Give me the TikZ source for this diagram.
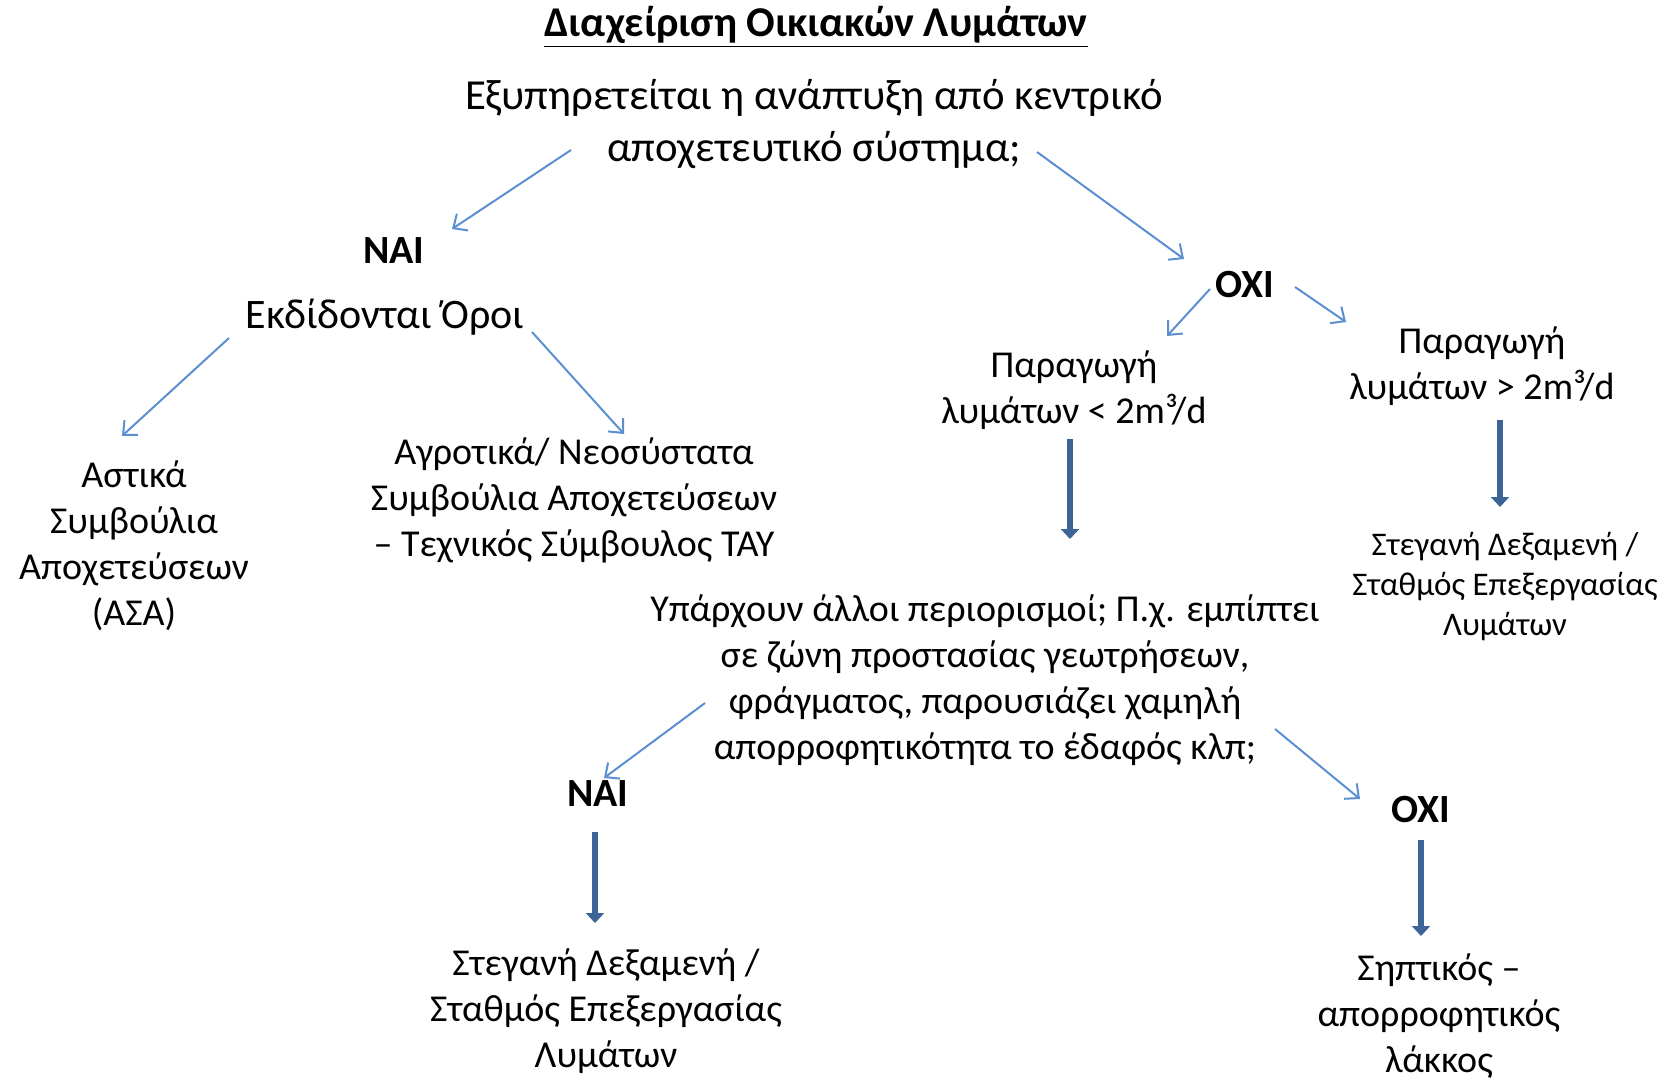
\documentclass[tikz,border=0pt]{standalone}
\usepackage{fontspec}
\setmainfont{Carlito}
\usetikzlibrary{arrows.meta,calc}
\definecolor{lBlue}{RGB}{91,143,209}
\definecolor{dBlue}{RGB}{60,100,150}
\tikzset{
    lnk/.style={draw=lBlue, line width=1pt, -{Straight Barb[length=5.5pt,width=10pt]}},
    thk/.style={draw=dBlue, line width=3pt, -{Triangle[length=5pt,width=9pt]}},
    txt/.style={align=center, inner sep=0pt, font=\fontsize{19}{23}\selectfont},
    sml/.style={align=center, inner sep=0pt, font=\fontsize{16.5}{20}\selectfont},
    ans/.style={inner sep=0pt, font=\fontsize{20}{24}\selectfont\bfseries}
}

\begin{document}
\begin{tikzpicture}[x=0.5pt,y=-0.5pt]
\useasboundingbox (0,0) rectangle (1668,1080);
\node[ans,font=\fontsize{21.2}{25}\selectfont\bfseries] (title) at (816,27) {\underline{Διαχείριση Οικιακών Λυμάτων}};
\node[txt,font=\fontsize{21.4}{26}\selectfont] (q) at (814,124) {Εξυπηρετείται η ανάπτυξη από κεντρικό\\αποχετευτικό σύστημα;};
\node[ans] (nai1) at (394,251) {ΝΑΙ};
\node[txt,font=\fontsize{21}{25}\selectfont] (ekd) at (385,317) {Εκδίδονται Όροι};
\node[txt] (astika) at (134,546) {Αστικά\\Συμβούλια\\Αποχετεύσεων\\(ΑΣΑ)};
\node[txt] (agro) at (574,500) {Αγροτικά/ Νεοσύστατα\\Συμβούλια Αποχετεύσεων\\– Τεχνικός Σύμβουλος ΤΑΥ};
\node[ans] (oxi1) at (1245,285) {ΟΧΙ};
\node[txt] (par1) at (1074,390) {Παραγωγή\\λυμάτων < 2m³/d};
\node[txt] (par2) at (1482,366) {Παραγωγή\\λυμάτων > 2m³/d};
\node[sml] (steg1) at (1505,587) {Στεγανή Δεξαμενή /\\Σταθμός Επεξεργασίας\\Λυμάτων};
\node[txt] (ypar) at (985,680) {Υπάρχουν άλλοι περιορισμοί; Π.χ. εμπίπτει\\σε ζώνη προστασίας γεωτρήσεων,\\φράγματος, παρουσιάζει χαμηλή\\απορροφητικότητα το έδαφός κλπ;};
\node[ans] (nai2) at (598,794) {ΝΑΙ};
\node[ans] (oxi2) at (1421,810) {ΟΧΙ};
\node[txt] (steg2) at (606,1011) {Στεγανή Δεξαμενή /\\Σταθμός Επεξεργασίας\\Λυμάτων};
\node[txt] (sipt) at (1439,1016) {Σηπτικός –\\απορροφητικός\\λάκκος};

\draw[lnk] ($(q)+(-243,26)$) -- ($(nai1)+(58,-22)$);
\draw[lnk] ($(q)+(223,28)$) -- ($(oxi1)+(-61,-26)$);
\draw[lnk] ($(ekd)+(-156,21)$) -- ($(astika)+(-12,-110)$);
\draw[lnk] ($(ekd)+(147,15)$) -- ($(agro)+(50,-66)$);
\draw[lnk] ($(oxi1)+(-35,4)$) -- ($(par1)+(93,-54)$);
\draw[lnk] ($(oxi1)+(50,2)$) -- ($(par2)+(-136,-44)$);
\draw[thk] ($(par1)+(-4,49)$) -- ($(ypar)+(85,-141)$);
\draw[thk] ($(par2)+(18,54)$) -- ($(steg1)+(-5,-80)$);
\draw[lnk] ($(ypar)+(-280,23)$) -- ($(nai2)+(6,-16)$);
\draw[lnk] ($(ypar)+(290,49)$) -- ($(oxi2)+(-61,-11)$);
\draw[thk] ($(nai2)+(-3,38)$) -- ($(steg2)+(-11,-88)$);
\draw[thk] ($(oxi2)+(0,30)$) -- ($(sipt)+(-18,-80)$);
\end{tikzpicture}
\end{document}
